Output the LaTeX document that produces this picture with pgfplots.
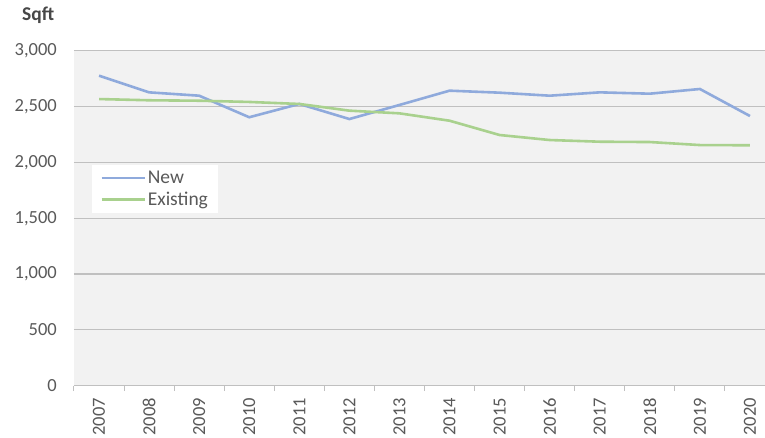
\documentclass[border=0pt]{standalone}
\usepackage{pgfplots}
\pgfplotsset{compat=1.18}
\usepackage{fontspec}
\setmainfont{Carlito}
\definecolor{bgc}{HTML}{F2F2F2}
\definecolor{gridc}{HTML}{C0C0C0}
\definecolor{txt}{HTML}{595959}
\definecolor{newc}{HTML}{8FAADC}
\definecolor{exc}{HTML}{A9D18E}
\begin{document}
\begin{tikzpicture}
\useasboundingbox (-74pt,-52.3pt) rectangle (691pt,385.7pt);
\begin{axis}[
  at={(0pt,0pt)}, anchor=south west,
  scale only axis, width=701pt, height=335pt,
  xmin=-0.5, xmax=13.5, ymin=0, ymax=3000,
  axis background/.style={fill=bgc},
  axis x line*=bottom, axis y line*=left,
  x axis line style={draw=gridc, line width=1.2pt, -},
  y axis line style={draw=none},
  xtick={0,...,13},
  xticklabels={2007,2008,2009,2010,2011,2012,2013,2014,2015,2016,2017,2018,2019,2020},
  minor xtick={-0.5,0.5,...,13.5},
  major tick length=0pt, minor tick length=5.5pt, tick align=outside,
  minor tick style={draw=gridc, line width=1pt},
  ytick={0,500,...,3000},
  ymajorgrids, grid style={draw=gridc, line width=1.2pt},
  /pgf/number format/assume math mode=true,
  /pgf/number format/1000 sep={,},
  yticklabel style={font=\fontsize{18.5}{20}\selectfont, text=txt, anchor=east, inner sep=0pt, xshift=-17pt},
  xticklabel style={font=\fontsize{18.5}{20}\selectfont, text=txt, rotate=90, anchor=east, inner sep=0pt},
  xticklabel shift=12pt,
  legend style={at={(rel axis cs:0.0257,0.659)}, anchor=north west, draw=none, fill=white,
    font=\fontsize{19.5}{21}\selectfont, text=txt, inner xsep=8pt, inner ysep=4pt, row sep=3pt},
  legend cell align=left,
  legend image code/.code={\draw[#1] (0pt,0pt) -- (43pt,0pt);},
]
\addplot[newc, line width=2.6pt] coordinates {
(0,2776) (1,2627) (2,2597) (3,2404) (4,2523) (5,2388) (6,2514) (7,2642) (8,2624) (9,2597) (10,2627) (11,2615) (12,2657) (13,2415)};
\addlegendentry{New}
\addplot[exc, line width=2.6pt] coordinates {
(0,2567) (1,2556) (2,2552) (3,2541) (4,2523) (5,2463) (6,2439) (7,2373) (8,2245) (9,2200) (10,2185) (11,2182) (12,2155) (13,2153)};
\addlegendentry{Existing}
\end{axis}
\node[anchor=west, inner sep=0pt, text=txt!80!black, font=\fontsize{19.5}{21}\selectfont\bfseries] at (-52pt,370pt) {Sqft};
\end{tikzpicture}
\end{document}
